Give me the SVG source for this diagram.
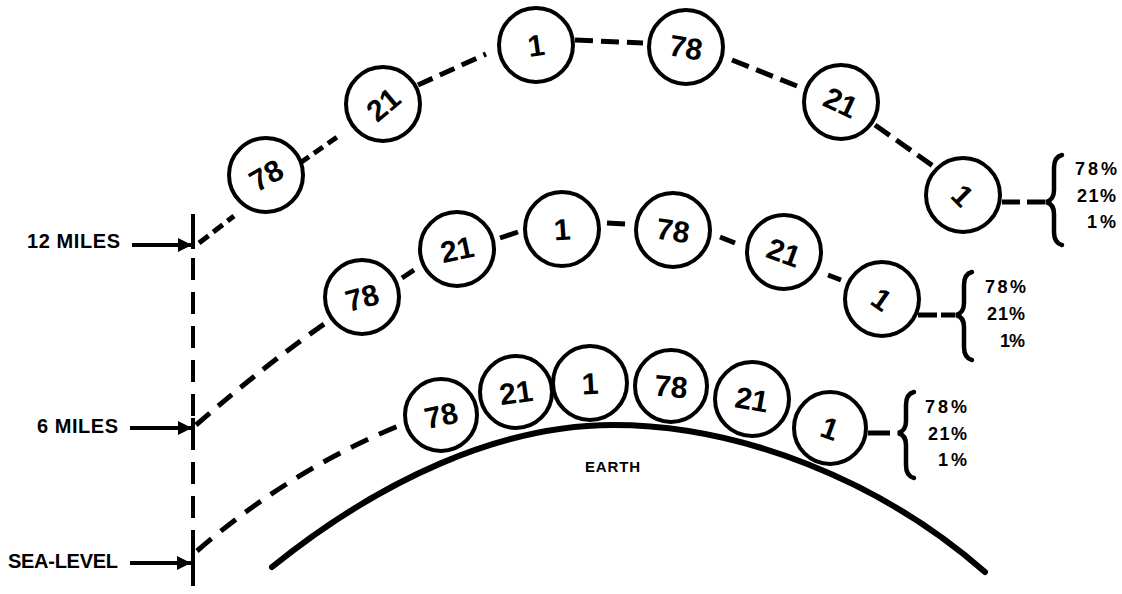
<svg xmlns="http://www.w3.org/2000/svg" width="1122" height="594" viewBox="0 0 1122 594">
<defs>
<style>
.c{fill:none;stroke:#000;stroke-width:4}
.n{font-family:"Liberation Sans",Arial,sans-serif;font-weight:bold;font-size:30px;fill:#000;text-anchor:middle}
.lab{font-family:"Liberation Sans",Arial,sans-serif;font-weight:bold;font-size:20px;fill:#000}
.pc{font-family:"Liberation Sans",Arial,sans-serif;font-weight:bold;font-size:18px;fill:#000}
.d{fill:none;stroke:#000;stroke-width:5;stroke-dasharray:14 8}
.s{fill:none;stroke:#000;stroke-width:5}
.br{fill:none;stroke:#000;stroke-width:4.5;stroke-linecap:round}
</style>
<marker id="ah" viewBox="0 0 10 10" refX="10" refY="5" markerWidth="4" markerHeight="3.5" markerUnits="strokeWidth" orient="auto">
<path d="M0,0 L10,5 L0,10 z" fill="#000"/>
</marker>
</defs>
<rect width="1122" height="594" fill="#fff"/>

<g id="axis">
<line x1="193" y1="214" x2="193" y2="249" class="s" style="stroke-width:4"/>
<line x1="193" y1="258" x2="193" y2="594" class="s" style="stroke-width:4;stroke-dasharray:22 12"/>
<line x1="193" y1="418" x2="193" y2="440" class="s" style="stroke-width:4"/>
<line x1="193" y1="552" x2="193" y2="575" class="s" style="stroke-width:4"/>
</g>

<g id="label-12-miles">
<text x="27" y="248" class="lab" textLength="93" lengthAdjust="spacing">12 MILES</text>
<line x1="132" y1="245" x2="192" y2="245" stroke="#000" stroke-width="4" marker-end="url(#ah)"/>
</g>
<g id="label-6-miles">
<text x="37" y="433" class="lab" textLength="81" lengthAdjust="spacing">6 MILES</text>
<line x1="130" y1="428" x2="192" y2="428" stroke="#000" stroke-width="4" marker-end="url(#ah)"/>
</g>
<g id="label-sea-level">
<text x="8" y="568" class="lab" textLength="110" lengthAdjust="spacing">SEA-LEVEL</text>
<line x1="130" y1="563" x2="191" y2="563" stroke="#000" stroke-width="4" marker-end="url(#ah)"/>
</g>

<g id="connectors">
<line x1="199" y1="243" x2="234" y2="216" class="d" style="stroke-dasharray:12 6"/>
<line x1="300" y1="163" x2="340" y2="135" class="d" style="stroke-dasharray:11 6"/>
<line x1="418" y1="85" x2="486" y2="54" class="d" style="stroke-dasharray:16 8"/>
<line x1="575" y1="40" x2="643" y2="43" class="d" style="stroke-dasharray:18 8"/>
<line x1="732" y1="60" x2="797" y2="86" class="d" style="stroke-dasharray:18 8"/>
<line x1="875" y1="125" x2="933" y2="166" class="d" style="stroke-dasharray:18 8"/>
<line x1="1002" y1="202" x2="1046" y2="202" class="d" style="stroke-dasharray:18 7"/>
<path d="M196,425 Q265,365 327,322" class="d" style="stroke-dasharray:18 11"/>
<line x1="402" y1="278" x2="414" y2="270" class="s"/>
<line x1="500" y1="238" x2="518" y2="232" class="s"/>
<line x1="607" y1="223" x2="625" y2="224" class="s"/>
<line x1="720" y1="237" x2="735" y2="243" class="s"/>
<line x1="828" y1="275" x2="841" y2="280" class="s"/>
<line x1="918" y1="315" x2="955" y2="315" class="d" style="stroke-dasharray:19 4"/>
<path d="M197,551 Q290,470 403,424" class="d" style="stroke-dasharray:19 12"/>
<line x1="868" y1="433" x2="890" y2="433" class="s"/>
</g>

<g id="top-78"><circle cx="266" cy="175" r="37" class="c"/><text x="266" y="175" class="n" transform="rotate(-30 266 175)" dy="11">78</text></g>
<g id="top-21"><circle cx="383" cy="104" r="37" class="c"/><text x="383" y="104" class="n" transform="rotate(-40 383 104)" dy="11">21</text></g>
<g id="top-1"><circle cx="536" cy="45" r="37" class="c"/><text x="536" y="45" class="n" transform="rotate(-8 536 45)" dy="11">1</text></g>
<g id="top-78b"><circle cx="686" cy="47" r="37" class="c"/><text x="686" y="47" class="n" transform="rotate(10 686 47)" dy="11">78</text></g>
<g id="top-21b"><circle cx="841" cy="102" r="37" class="c"/><text x="841" y="102" class="n" transform="rotate(25 841 102)" dy="11">21</text></g>
<g id="top-1b"><circle cx="963" cy="195" r="37" class="c"/><text x="963" y="195" class="n" transform="rotate(45 963 195)" dy="11">1</text></g>

<g id="mid-78"><circle cx="362" cy="297" r="37" class="c"/><text x="362" y="297" class="n" transform="rotate(-15 362 297)" dy="11">78</text></g>
<g id="mid-21"><circle cx="457" cy="249" r="37" class="c"/><text x="457" y="249" class="n" transform="rotate(-12 457 249)" dy="11">21</text></g>
<g id="mid-1"><circle cx="562" cy="229" r="37" class="c"/><text x="562" y="229" class="n" transform="rotate(-4 562 229)" dy="11">1</text></g>
<g id="mid-78b"><circle cx="673" cy="230" r="37" class="c"/><text x="673" y="230" class="n" transform="rotate(8 673 230)" dy="11">78</text></g>
<g id="mid-21b"><circle cx="784" cy="252" r="37" class="c"/><text x="784" y="252" class="n" transform="rotate(20 784 252)" dy="11">21</text></g>
<g id="mid-1b"><circle cx="882" cy="299" r="37" class="c"/><text x="882" y="299" class="n" transform="rotate(35 882 299)" dy="11">1</text></g>

<g id="low-78"><circle cx="441" cy="415" r="36" class="c"/><text x="441" y="415" class="n" transform="rotate(-12 441 415)" dy="11">78</text></g>
<g id="low-21"><circle cx="516" cy="392" r="36" class="c"/><text x="516" y="392" class="n" transform="rotate(-8 516 392)" dy="11">21</text></g>
<g id="low-1"><circle cx="590" cy="383" r="37" class="c"/><text x="590" y="383" class="n" transform="rotate(-3 590 383)" dy="11">1</text></g>
<g id="low-78b"><circle cx="671" cy="386" r="36" class="c"/><text x="671" y="386" class="n" transform="rotate(5 671 386)" dy="11">78</text></g>
<g id="low-21b"><circle cx="752" cy="399" r="37" class="c"/><text x="752" y="399" class="n" transform="rotate(10 752 399)" dy="11">21</text></g>
<g id="low-1b"><circle cx="830" cy="428" r="36" class="c"/><text x="830" y="428" class="n" transform="rotate(20 830 428)" dy="11">1</text></g>

<g id="top-legend">
<path d="M1062,155 Q1054,157 1054,168 L1054,190 Q1054,200 1046,202 Q1054,204 1054,214 L1054,232 Q1054,243 1062,245" class="br"/>
<text x="1075" y="175" class="pc" textLength="42" lengthAdjust="spacing">78%</text>
<text x="1077" y="202" class="pc" textLength="39" lengthAdjust="spacing">21%</text>
<text x="1087" y="228" class="pc" textLength="29" lengthAdjust="spacing">1%</text>
</g>
<g id="mid-legend">
<path d="M972,272 Q964,274 964,285 L964,303 Q964,313 956,315 Q964,317 964,327 L964,347 Q964,358 972,360" class="br"/>
<text x="985" y="293" class="pc" textLength="41" lengthAdjust="spacing">78%</text>
<text x="987" y="320" class="pc" textLength="38" lengthAdjust="spacing">21%</text>
<text x="1000" y="347" class="pc" textLength="25" lengthAdjust="spacing">1%</text>
</g>
<g id="low-legend">
<path d="M914,392 Q906,394 906,405 L906,421 Q906,431 898,433 Q906,435 906,445 L906,465 Q906,476 914,478" class="br"/>
<text x="925" y="413" class="pc" textLength="42" lengthAdjust="spacing">78%</text>
<text x="928" y="440" class="pc" textLength="39" lengthAdjust="spacing">21%</text>
<text x="938" y="466" class="pc" textLength="29" lengthAdjust="spacing">1%</text>
</g>

<g id="earth">
<path d="M272,567 C380,480 500,425 613,425 C740,425 880,480 985,572" fill="none" stroke="#000" stroke-width="6" stroke-linecap="round"/>
<text x="585" y="472" class="pc" style="font-size:15px" textLength="55" lengthAdjust="spacing">EARTH</text>
</g>
</svg>
